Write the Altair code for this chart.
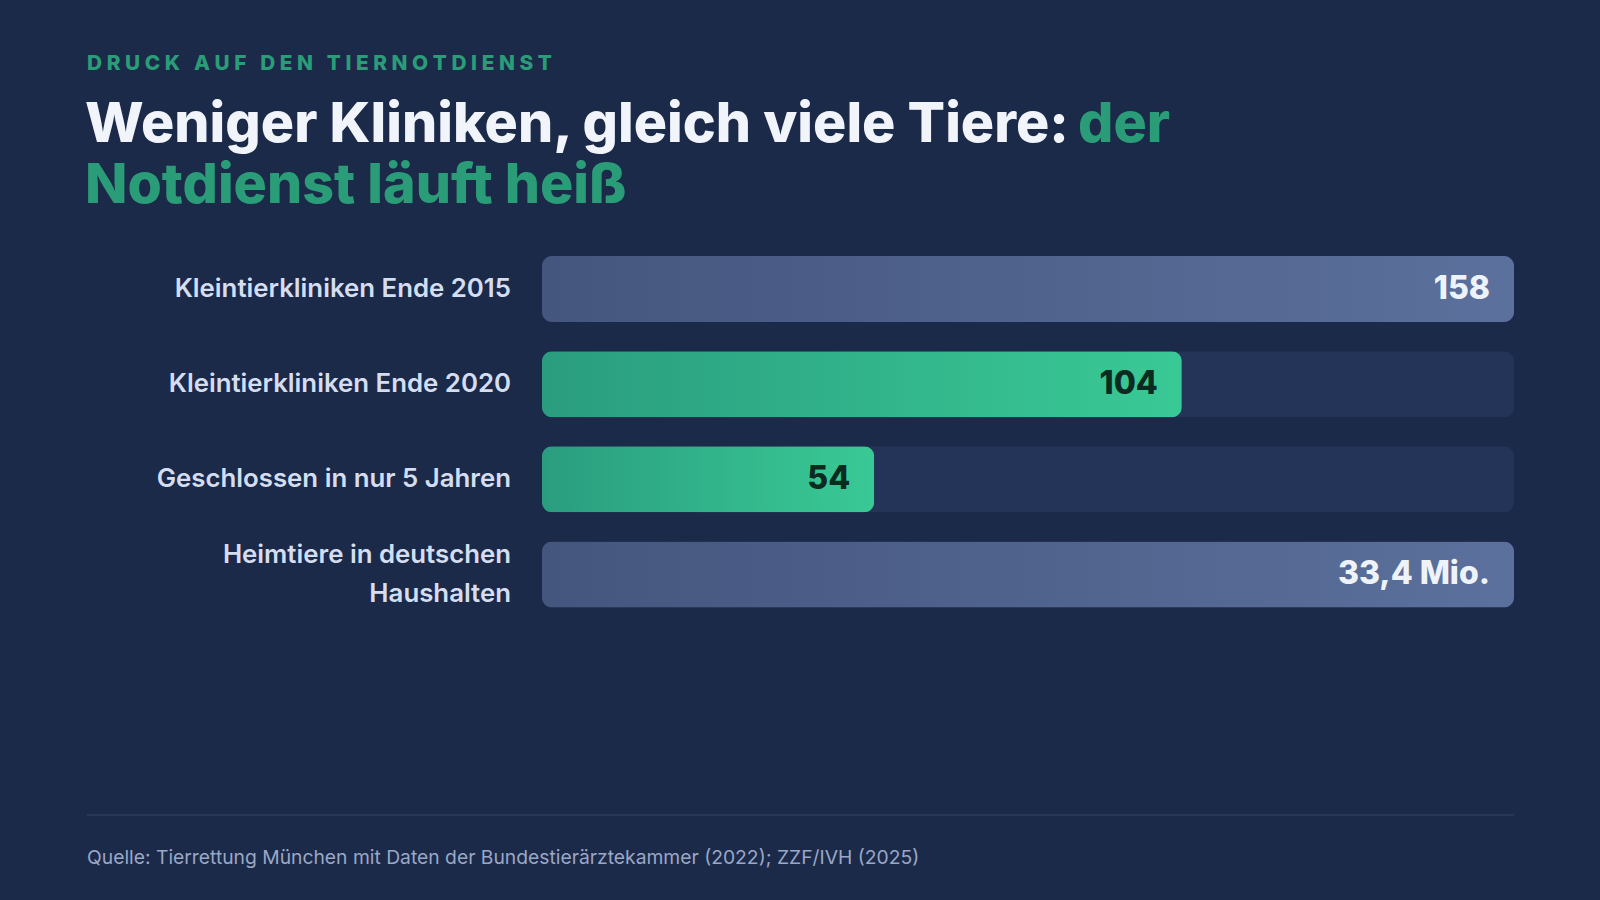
import altair as alt
import pandas as pd

# ---- data ----
categories = [
    "Kleintierkliniken Ende 2015",
    "Kleintierkliniken Ende 2020",
    "Geschlossen in nur 5 Jahren",
    "Heimtiere in deutschen\nHaushalten",
]
values = [158, 104, 54, 33.4]
reference_max = [158, 158, 158, 33.4]
value_labels = ["158", "104", "54", "33,4 Mio."]
highlight = [False, True, True, False]

eyebrow = "DRUCK AUF DEN TIERNOTDIENST"
title_white = "Weniger Kliniken, gleich viele Tiere:"
title_green_1 = "der"
title_green_2 = "Notdienst läuft heiß"
source = "Quelle: Tierrettung München mit Daten der Bundestierärztekammer (2022); ZZF/IVH (2025)"

df = pd.DataFrame({
    "cat": categories,
    "value": values,
    "max": reference_max,
    "label": value_labels,
    "hl": highlight,
})
df["frac"] = df["value"] / df["max"]
df["full"] = 1.0
df["multi"] = df["cat"].str.contains("\n")

BG = "#1c2a4a"
TRACK = "#243459"
GREEN = "#2a9d78"
FONT = "Inter"

xs = alt.Scale(domain=[0, 1], range=[542, 1514])
ys = alt.Scale(domain=categories, range=[256, 607.5], paddingInner=0.306, paddingOuter=0)

base = alt.Chart(df)
Y = alt.Y("cat:N", sort=categories, scale=ys, axis=None)

track = base.mark_bar(color=TRACK, cornerRadius=10).encode(
    x=alt.X("full:Q", scale=xs, axis=None), x2=alt.value(542), y=Y
)

slate_grad = alt.Gradient(
    gradient="linear",
    stops=[alt.GradientStop(color="#45567e", offset=0), alt.GradientStop(color="#5b709c", offset=1)],
    x1=0, x2=1, y1=0, y2=0,
)
green_grad = alt.Gradient(
    gradient="linear",
    stops=[alt.GradientStop(color="#2a9d7f", offset=0), alt.GradientStop(color="#39c995", offset=1)],
    x1=0, x2=1, y1=0, y2=0,
)

slate_bars = base.transform_filter("!datum.hl").mark_bar(color=slate_grad, cornerRadius=10).encode(
    x=alt.X("frac:Q", scale=xs, axis=None), x2=alt.value(542), y=Y
)
green_bars = base.transform_filter("datum.hl").mark_bar(color=green_grad, cornerRadius=10).encode(
    x=alt.X("frac:Q", scale=xs, axis=None), x2=alt.value(542), y=Y
)

value_text = base.mark_text(
    align="right", baseline="middle", dx=-24, font=FONT, fontSize=32, fontWeight=800
).encode(
    x=alt.X("frac:Q", scale=xs, axis=None),
    y=Y,
    text="label:N",
    color=alt.condition("datum.hl", alt.value("#0b2a20"), alt.value("#eef3fa")),
)

label_style = dict(align="right", baseline="middle", font=FONT, fontSize=25.8, fontWeight=600,
                   color="#d4def0", lineBreak="\n", lineHeight=39)
row_labels = base.transform_filter("!datum.multi").mark_text(**label_style).encode(
    x=alt.value(511), y=Y, text="cat:N"
)
row_labels_multi = base.transform_filter("datum.multi").mark_text(dy=-19.5, **label_style).encode(
    x=alt.value(511), y=Y, text="cat:N"
)

one = pd.DataFrame({"k": [0]})

def txt(s, x, y, size, weight, color, baseline="alphabetic"):
    return alt.Chart(one).mark_text(
        align="left", baseline=baseline, font=FONT, fontSize=size, fontWeight=weight, color=color
    ).encode(x=alt.value(x), y=alt.value(y), text=alt.value(s))

spaced = "\u2009\u200a".join(list(eyebrow))
eyebrow_t = txt(spaced, 87, 70, 20.8, 800, GREEN)
t1 = txt(title_white, 85, 142, 55.5, 800, "#f1f5fb")
t1b = txt(title_green_1, 1078, 142, 55.5, 800, GREEN)
t2 = txt(title_green_2, 85, 203, 55.5, 800, GREEN)
src = txt(source, 87, 858, 19.3, 400, "#9aa7c5", baseline="middle")

rule = alt.Chart(one).mark_rule(color="#2c3b5d", strokeWidth=1.5).encode(
    x=alt.value(87), x2=alt.value(1514), y=alt.value(815)
)

chart = alt.layer(
    track, slate_bars, green_bars, value_text, row_labels, row_labels_multi,
    eyebrow_t, t1, t1b, t2, rule, src
).properties(
    width=1600, height=900, background=BG,
    autosize=alt.AutoSizeParams(type="none"), padding=0,
).configure_view(stroke=None)

chart.save("out.html", embed_options={"renderer": "svg", "actions": False})
